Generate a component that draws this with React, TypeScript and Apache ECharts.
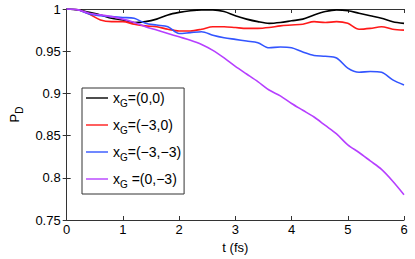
import React, { useEffect, useRef } from "react";
import * as echarts from "echarts";

const tValues = [0, 0.2, 0.4, 0.6, 0.8, 1.0, 1.2, 1.4, 1.6, 1.8, 2.0, 2.2, 2.4, 2.6, 2.8, 3.0, 3.2, 3.4, 3.6, 3.8, 4.0, 4.2, 4.4, 4.6, 4.8, 5.0, 5.2, 5.4, 5.6, 5.8, 6.0];

const black00 = [1.0, 0.999, 0.996, 0.993, 0.989, 0.987, 0.984, 0.985, 0.988, 0.993, 0.996, 0.998, 0.999, 0.999, 0.997, 0.992, 0.988, 0.985, 0.983, 0.984, 0.986, 0.988, 0.993, 0.997, 0.999, 0.998, 0.995, 0.992, 0.989, 0.985, 0.983];
const red30 = [1.0, 0.999, 0.994, 0.987, 0.985, 0.985, 0.982, 0.98, 0.979, 0.976, 0.974, 0.974, 0.976, 0.979, 0.979, 0.978, 0.977, 0.977, 0.978, 0.98, 0.981, 0.982, 0.985, 0.984, 0.985, 0.983, 0.976, 0.977, 0.979, 0.976, 0.975];
const blue33 = [1.0, 0.999, 0.994, 0.992, 0.991, 0.99, 0.989, 0.983, 0.981, 0.979, 0.971, 0.972, 0.973, 0.969, 0.966, 0.964, 0.962, 0.96, 0.954, 0.955, 0.954, 0.949, 0.945, 0.944, 0.942, 0.93, 0.925, 0.926, 0.925, 0.916, 0.91];
const purple03 = [1.0, 0.999, 0.995, 0.993, 0.991, 0.988, 0.984, 0.979, 0.975, 0.971, 0.967, 0.963, 0.958, 0.951, 0.942, 0.932, 0.923, 0.914, 0.904, 0.897, 0.888, 0.88, 0.872, 0.862, 0.852, 0.839, 0.83, 0.82, 0.81, 0.796, 0.78];

const seriesNames = ["(0,0)", "(−3,0)", "(−3,−3)", "(0,−3)"];
const legendSuffixes = ["=(0,0)", "=(−3,0)", "=(−3,−3)", " =(0,−3)"];
const seriesValues = [black00, red30, blue33, purple03];
const seriesColors = ["#000000", "#ff1a1a", "#3355ff", "#b63fff"];

const FONT = "Liberation Sans, Arial, Helvetica, sans-serif";

export default function App() {
  const ref = useRef<HTMLDivElement>(null);
  useEffect(() => {
    if (!ref.current) return;
    const chart = echarts.init(ref.current, undefined, { renderer: "svg" });
    const axisColor = "#333";
    const series = seriesValues.map((vals, i) => ({
      name: seriesNames[i],
      type: "line",
      showSymbol: false,
      symbol: "none",
      smooth: 0.3,
      data: tValues.map((t, j) => [t, vals[j]]),
      lineStyle: { color: seriesColors[i], width: 1.6 },
      itemStyle: { color: seriesColors[i] },
      xAxisIndex: 0,
      yAxisIndex: 0,
    }));
    chart.setOption({
      animation: false,
      backgroundColor: "#ffffff",
      textStyle: { fontFamily: FONT },
      grid: { left: 55, right: 11, top: 9, bottom: 39 },
      xAxis: [
        {
          type: "value",
          min: 0,
          max: 6,
          interval: 1,
          name: "t (fs)",
          nameLocation: "middle",
          nameGap: 14,
          nameTextStyle: { fontSize: 13, color: "#000", fontFamily: FONT },
          axisLine: { show: true, lineStyle: { color: axisColor, width: 1 } },
          axisTick: { show: true, inside: true, length: 4, lineStyle: { color: axisColor } },
          axisLabel: { fontSize: 13, color: "#000", margin: 3, fontFamily: FONT },
          splitLine: { show: false },
        },
        {
          type: "value",
          position: "top",
          min: 0,
          max: 6,
          interval: 1,
          axisLine: { show: true, lineStyle: { color: axisColor, width: 1 } },
          axisTick: { show: true, inside: true, length: 4, lineStyle: { color: axisColor } },
          axisLabel: { show: false },
          splitLine: { show: false },
        },
      ],
      yAxis: [
        {
          type: "value",
          min: 0.75,
          max: 1,
          interval: 0.05,
          name: "{p|P}{d|D}",
          nameLocation: "middle",
          nameRotate: 90,
          nameGap: 37,
          nameTextStyle: {
            color: "#000",
            fontFamily: FONT,
            rich: {
              p: { fontSize: 13, lineHeight: 20, verticalAlign: "middle", fontFamily: FONT, color: "#000" },
              d: { fontSize: 10, lineHeight: 20, verticalAlign: "bottom", fontFamily: FONT, color: "#000" },
            },
          },
          axisLine: { show: true, lineStyle: { color: axisColor, width: 1 } },
          axisTick: { show: true, inside: true, length: 4, lineStyle: { color: axisColor } },
          axisLabel: {
            fontSize: 13,
            color: "#000",
            margin: 6,
            fontFamily: FONT,
            formatter: (v: number) => String(Math.round(v * 100) / 100),
          },
          splitLine: { show: false },
        },
        {
          type: "value",
          position: "right",
          min: 0.75,
          max: 1,
          interval: 0.05,
          axisLine: { show: true, lineStyle: { color: axisColor, width: 1 } },
          axisTick: { show: true, inside: true, length: 4, lineStyle: { color: axisColor } },
          axisLabel: { show: false },
          splitLine: { show: false },
        },
      ],
      legend: {
        orient: "vertical",
        left: 82,
        top: 88,
        backgroundColor: "#ffffff",
        borderColor: "#333",
        borderWidth: 1,
        borderRadius: 0,
        padding: [3, 3, 5, 4],
        itemGap: 10,
        itemWidth: 22,
        itemHeight: 14,
        itemTextGap: 3,
        data: seriesNames.map((n, i) => ({
          name: n,
          icon: "path://M0,6.3L22,6.3L22,7.7L0,7.7Z",
          itemStyle: { color: seriesColors[i] },
        })),
        formatter: (name: string) => {
          const i = seriesNames.indexOf(name);
          return `{x|x}{g|G}{t|${legendSuffixes[i]}}`;
        },
        textStyle: {
          fontFamily: FONT,
          rich: {
            x: { fontSize: 14, lineHeight: 20, verticalAlign: "middle", fontFamily: FONT, color: "#000" },
            g: { fontSize: 10, lineHeight: 20, verticalAlign: "bottom", fontFamily: FONT, color: "#000" },
            t: { fontSize: 14, lineHeight: 20, verticalAlign: "middle", fontFamily: FONT, color: "#000" },
          },
        },
      },
      series,
    });
    return () => chart.dispose();
  }, []);
  return (
    <div
      ref={ref}
      style={{ position: "fixed", left: 0, top: 0, width: 415, height: 259 }}
    />
  );
}
